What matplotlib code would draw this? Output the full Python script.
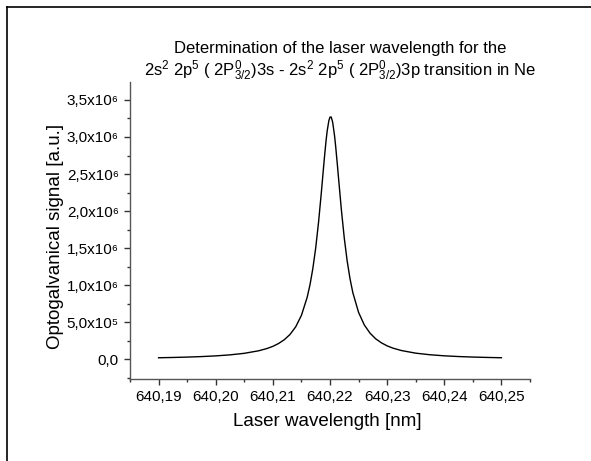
import matplotlib
matplotlib.use("Agg")
import matplotlib.pyplot as plt
from matplotlib.ticker import MultipleLocator
from matplotlib.lines import Line2D

plt.rcParams['font.family'] = ['Liberation Sans', 'DejaVu Sans']
plt.rcParams['mathtext.fontset'] = 'custom'
plt.rcParams['mathtext.rm'] = 'Liberation Sans'
plt.rcParams['mathtext.it'] = 'Liberation Sans'
plt.rcParams['mathtext.bf'] = 'Liberation Sans'

# Data
wavelength_nm = [640.190, 640.1925, 640.195, 640.1975, 640.200, 640.2025, 640.205, 640.2075,
                 640.209, 640.210, 640.211, 640.212, 640.213, 640.214, 640.215, 640.216,
                 640.2165, 640.217, 640.2175, 640.218, 640.2185, 640.2188, 640.219, 640.2193,
                 640.2195, 640.2198, 640.2200, 640.2202, 640.2204, 640.2205, 640.2208, 640.221,
                 640.2213, 640.2215, 640.222, 640.2225, 640.223, 640.2235, 640.224, 640.225,
                 640.226, 640.227, 640.228, 640.229, 640.230, 640.231, 640.2325, 640.235,
                 640.2375, 640.240, 640.2425, 640.245, 640.2475, 640.250]
signal = [20.7e3, 24.5e3, 29.6e3, 36.5e3, 46.0e3, 59.7e3, 80.6e3, 114.5e3,
          146e3, 174.8e3, 213e3, 264e3, 335e3, 438e3, 593e3, 835e3,
          1.006e6, 1.226e6, 1.504e6, 1.852e6, 2.264e6, 2.528e6, 2.702e6, 2.943e6,
          3.078e6, 3.220e6, 3.268e6, 3.270e6, 3.220e6, 3.182e6, 3.014e6, 2.867e6,
          2.616e6, 2.440e6, 2.010e6, 1.635e6, 1.329e6, 1.088e6, 898e3, 633e3,
          464e3, 353e3, 276e3, 222e3, 181e3, 151e3, 118e3, 82.7e3,
          61.1e3, 46.9e3, 37.1e3, 30.1e3, 24.9e3, 20.9e3]

x_ticks = [640.19, 640.20, 640.21, 640.22, 640.23, 640.24, 640.25]
y_ticks = [0.0, 0.5e6, 1.0e6, 1.5e6, 2.0e6, 2.5e6, 3.0e6, 3.5e6]
y_tick_labels = ['0,0', '5,0x10\u2075', '1,0x10\u2076', '1,5x10\u2076', '2,0x10\u2076',
                 '2,5x10\u2076', '3,0x10\u2076', '3,5x10\u2076']

title_line1 = 'Determination of the laser wavelength for the'
title_line2 = '2s$^2$ 2p$^5$ ( 2P$^0_{3/2}$)3s - 2s$^2$ 2p$^5$ ( 2P$^0_{3/2}$)3p transition in Ne'

fig = plt.figure(figsize=(5.91, 4.61), dpi=100)
ax = fig.add_axes([130/591, 1 - 379/461, 400/591, 297/461])

ax.plot(wavelength_nm, signal, color='black', lw=1.0)

ax.set_xlim(640.185, 640.255)
ax.set_ylim(-0.266e6, 3.742e6)

ax.spines['top'].set_visible(False)
ax.spines['right'].set_visible(False)
for s in ['left', 'bottom']:
    ax.spines[s].set_color('#555555')
    ax.spines[s].set_linewidth(1.0)

ax.set_xticks(x_ticks)
ax.set_xticklabels([f'{v:.2f}'.replace('.', ',') for v in x_ticks])
ax.set_yticks(y_ticks)
ax.set_yticklabels(y_tick_labels)
ax.xaxis.set_minor_locator(MultipleLocator(0.005))
ax.yaxis.set_minor_locator(MultipleLocator(0.25e6))
ax.tick_params(which='major', direction='out', length=4, width=1, color='#333333',
               labelsize=11)
ax.tick_params(axis='x', which='major', pad=4)
ax.tick_params(axis='y', which='major', pad=4)
ax.tick_params(which='minor', direction='out', length=2.5, width=1, color='#333333')

fig.text(327/591, 1 - 422/461, 'Laser wavelength [nm]', ha='center', va='center',
         fontsize=13.5)
fig.text(55/591, 1 - 236/461, 'Optogalvanical signal [a.u.]', ha='center', va='center',
         rotation=90, fontsize=13.5)

fig.text(340/591, 1 - 48/461, title_line1, ha='center', va='center', fontsize=12)
fig.text(340/591, 1 - 71/461, title_line2, ha='center', va='center', fontsize=12)

# partial frame around the page
fig.add_artist(Line2D([7/591, 7/591], [0, 1 - 7/461], color='black', lw=1.2,
                      transform=fig.transFigure))
fig.add_artist(Line2D([7/591, 1], [1 - 7/461, 1 - 7/461], color='black', lw=1.2,
                      transform=fig.transFigure))

fig.savefig('out.png', dpi=100)
